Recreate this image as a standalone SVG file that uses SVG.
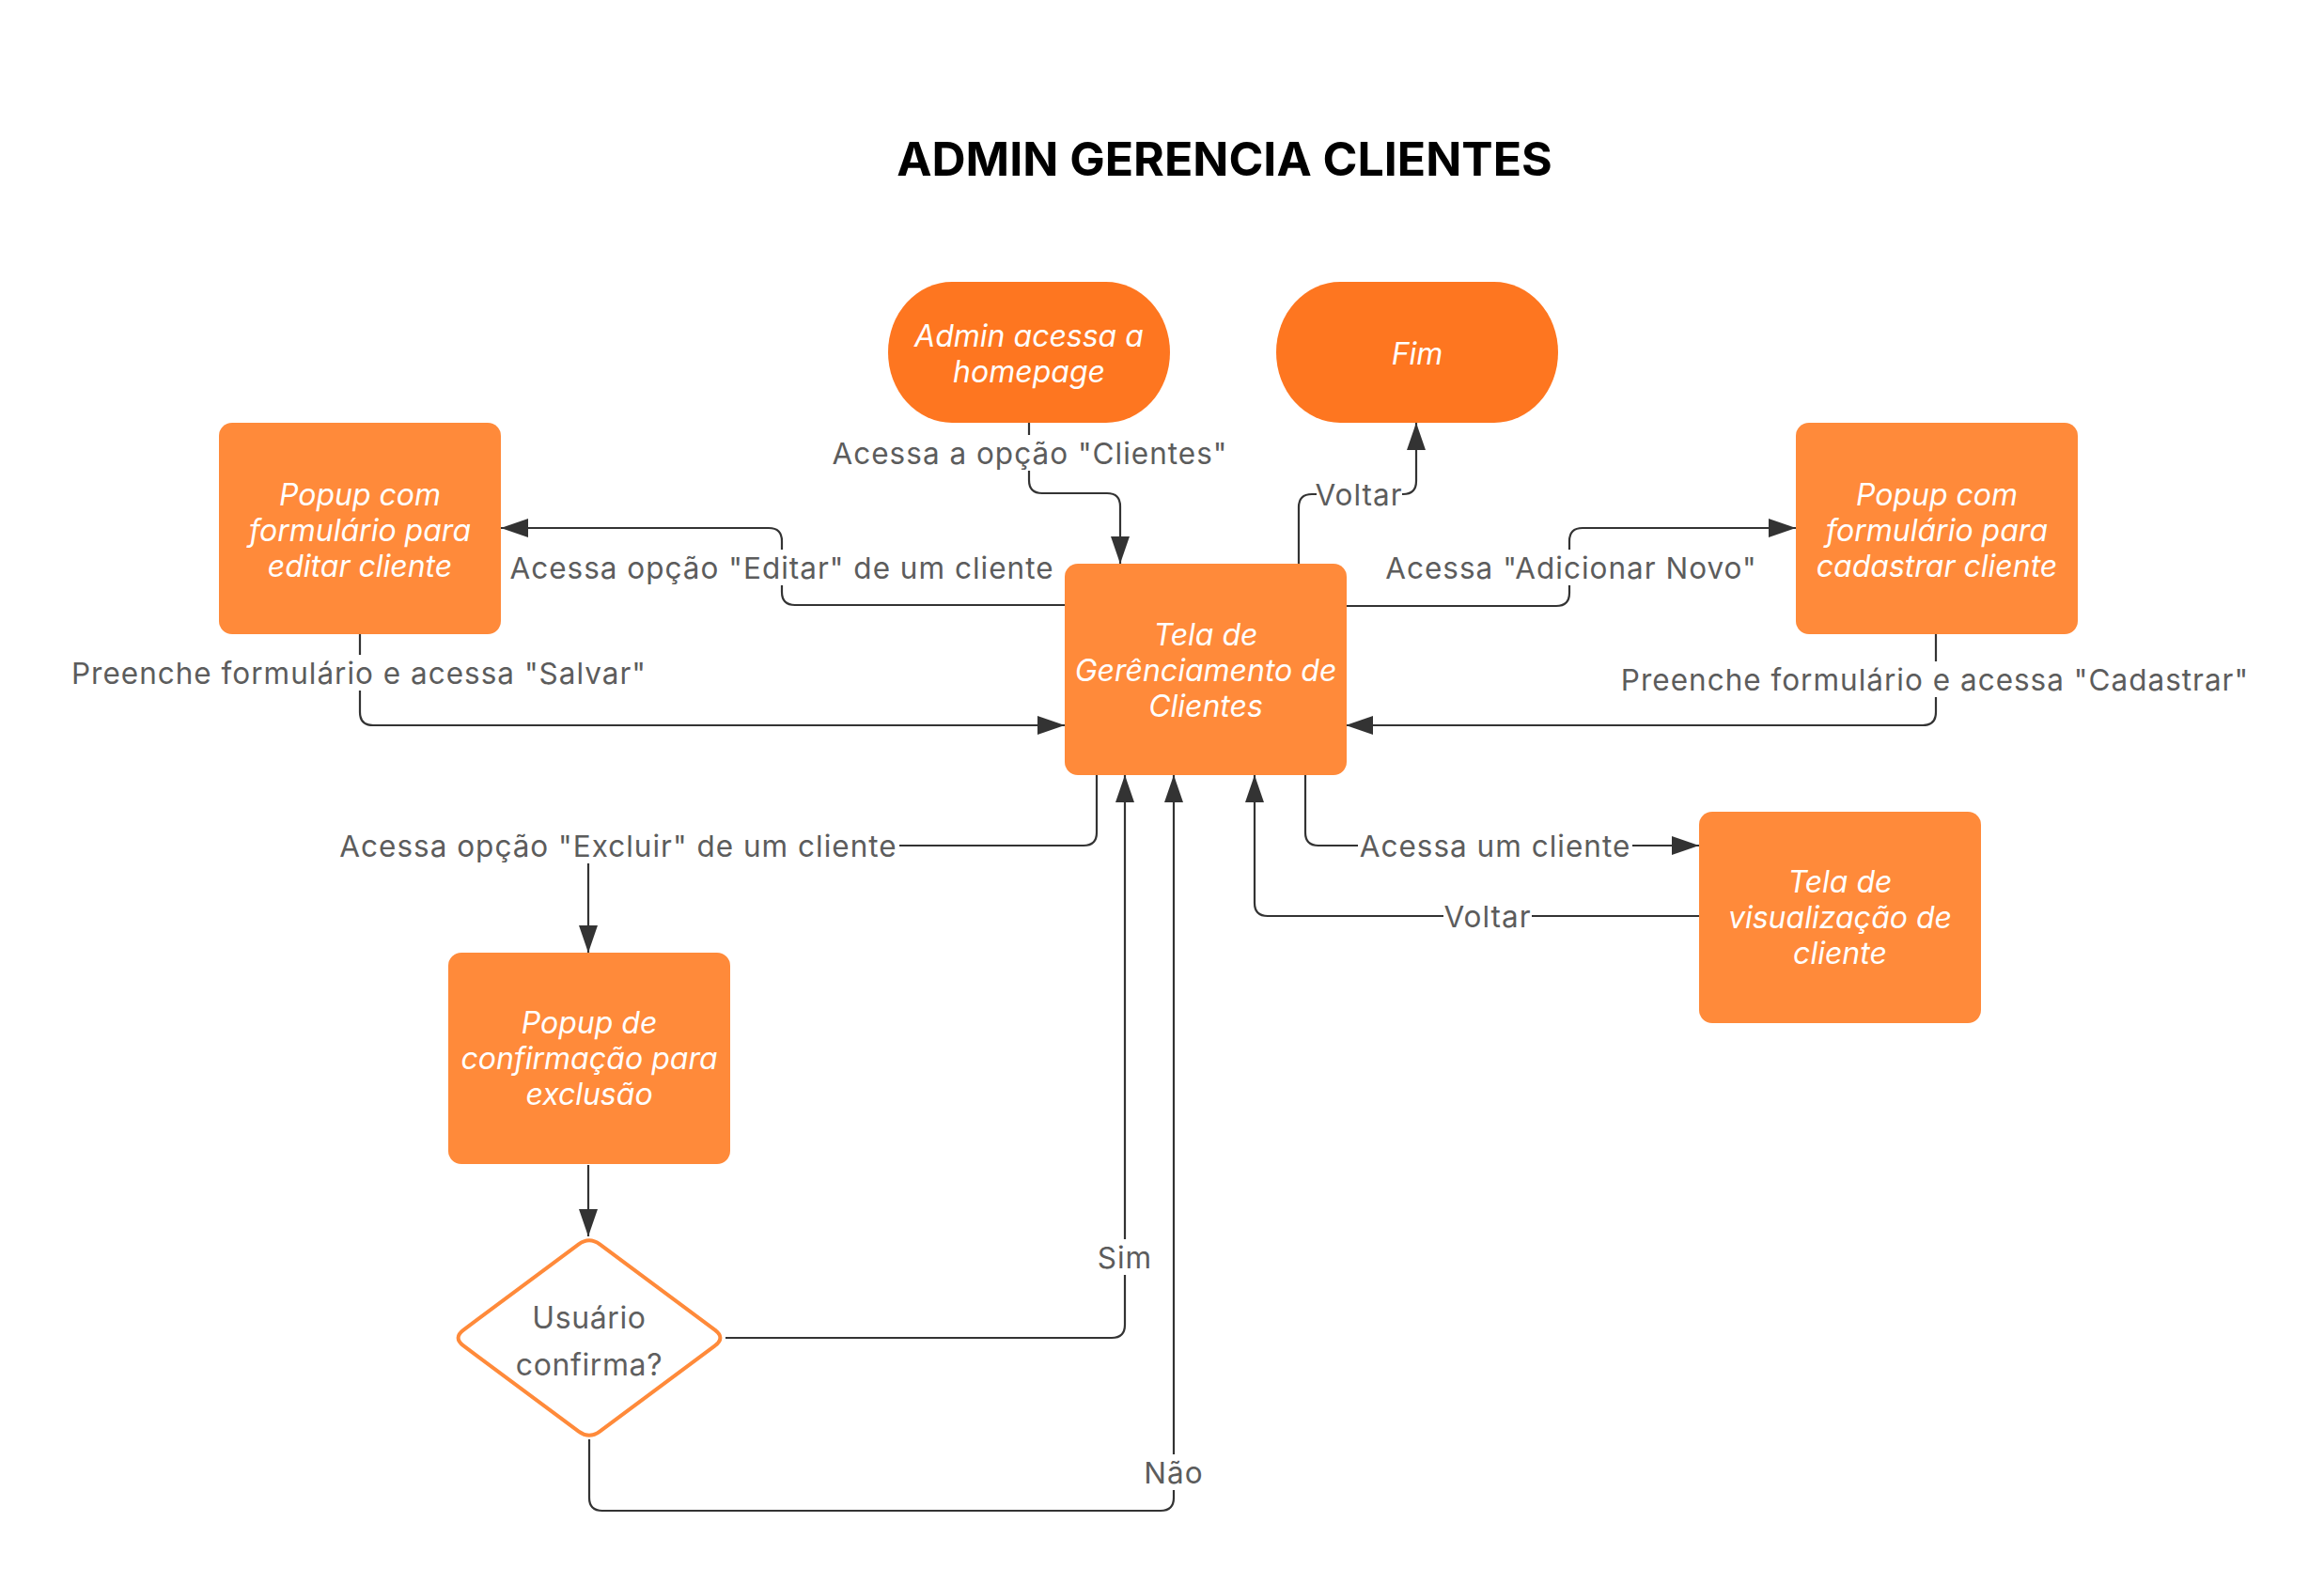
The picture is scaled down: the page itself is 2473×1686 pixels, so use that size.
<svg xmlns="http://www.w3.org/2000/svg" width="2473" height="1686" viewBox="0 0 2473 1686">
<style>
.bg{fill:#ffffff}
.title{font-family:Inter,"Liberation Sans",sans-serif;font-weight:700;font-size:50px;fill:#000}
.term{fill:#FE7620}
.proc{fill:#FF8A3A}
.nt{font-family:Inter,"Liberation Sans",sans-serif;font-style:italic;font-size:32px;fill:#ffffff;text-anchor:middle;dominant-baseline:central}
.dt{font-family:Inter,"Liberation Sans",sans-serif;font-size:32px;letter-spacing:0.6px;fill:#5f5f5f;text-anchor:middle;dominant-baseline:central}
.edge{fill:none;stroke:#333333;stroke-width:2.2}
.lb{fill:#ffffff}
.lt{font-family:Inter,"Liberation Sans",sans-serif;font-size:31.5px;letter-spacing:1px;fill:#5c5c5c;text-anchor:middle;dominant-baseline:central}
</style>
<defs>
<marker id="arr" viewBox="0 0 29 20" refX="29" refY="10" markerWidth="29" markerHeight="20" markerUnits="userSpaceOnUse" orient="auto">
<path d="M0 0 L29 10 L0 20 Z" fill="#333333"/>
</marker>
</defs>
<rect class="bg" x="0" y="0" width="2473" height="1686"/>
<text class="title" x="1303" y="187" text-anchor="middle">ADMIN GERENCIA CLIENTES</text>

<g id="connectors">
<path class="edge" d="M1095 450 V511 Q1095 525 1109 525 H1178 Q1192 525 1192 539 V600" marker-end="url(#arr)"/>
<path class="edge" d="M1133 644 H846 Q832 644 832 630 V576 Q832 562 818 562 H533" marker-end="url(#arr)"/>
<path class="edge" d="M383 675 V758 Q383 772 397 772 H1133" marker-end="url(#arr)"/>
<path class="edge" d="M1382 600 V540 Q1382 526 1396 526 H1493 Q1507 526 1507 512 V450" marker-end="url(#arr)"/>
<path class="edge" d="M1432 645 H1656 Q1670 645 1670 631 V576 Q1670 562 1684 562 H1911" marker-end="url(#arr)"/>
<path class="edge" d="M2060 675 V758 Q2060 772 2046 772 H1432" marker-end="url(#arr)"/>
<path class="edge" d="M1167 825 V886 Q1167 900 1153 900 H640 Q626 900 626 914 V1014" marker-end="url(#arr)"/>
<path class="edge" d="M1389 825 V886 Q1389 900 1403 900 H1808" marker-end="url(#arr)"/>
<path class="edge" d="M1808 975 H1349 Q1335 975 1335 961 V825" marker-end="url(#arr)"/>
<path class="edge" d="M626 1240 V1316" marker-end="url(#arr)"/>
<path class="edge" d="M772 1424 H1183 Q1197 1424 1197 1410 V825" marker-end="url(#arr)"/>
<path class="edge" d="M627 1532 V1594 Q627 1608 641 1608 H1235 Q1249 1608 1249 1594 V825" marker-end="url(#arr)"/>

<rect class="lb" x="886" y="463" width="420" height="38"/>
<text class="lt" x="1096" y="482">Acessa a opção "Clientes"</text>
<rect class="lb" x="539" y="585" width="585" height="38"/>
<text class="lt" x="832" y="604">Acessa opção "Editar" de um cliente</text>
<rect class="lb" x="73" y="697" width="617" height="38"/>
<text class="lt" x="382" y="716">Preenche formulário e acessa "Salvar"</text>
<rect class="lb" x="1401" y="507" width="91" height="38"/>
<text class="lt" x="1446" y="526">Voltar</text>
<rect class="lb" x="1472" y="585" width="399" height="38"/>
<text class="lt" x="1672" y="604">Acessa "Adicionar Novo"</text>
<rect class="lb" x="1722" y="704" width="674" height="38"/>
<text class="lt" x="2059" y="723">Preenche formulário e acessa "Cadastrar"</text>
<rect class="lb" x="360" y="881" width="597" height="38"/>
<text class="lt" x="658" y="900">Acessa opção "Excluir" de um cliente</text>
<rect class="lb" x="1445" y="881" width="292" height="38"/>
<text class="lt" x="1591" y="900">Acessa um cliente</text>
<rect class="lb" x="1536" y="956" width="94" height="38"/>
<text class="lt" x="1583" y="975">Voltar</text>
<rect class="lb" x="1170" y="1319" width="54" height="38"/>
<text class="lt" x="1197" y="1338">Sim</text>
<rect class="lb" x="1219" y="1548" width="60" height="38"/>
<text class="lt" x="1249" y="1567">Não</text>
</g>

<g id="n_start">
<rect class="term" x="945" y="300" width="300" height="150" rx="68" ry="75"/>
<text class="nt" x="1095" y="357">Admin acessa a</text>
<text class="nt" x="1095" y="395">homepage</text>
</g>
<g id="n_fim">
<rect class="term" x="1358" y="300" width="300" height="150" rx="68" ry="75"/>
<text class="nt" x="1508" y="376">Fim</text>
</g>
<g id="n_editar">
<rect class="proc" x="233" y="450" width="300" height="225" rx="14"/>
<text class="nt" x="383" y="526">Popup com</text>
<text class="nt" x="383" y="564">formulário para</text>
<text class="nt" x="383" y="602">editar cliente</text>
</g>
<g id="n_cadastrar">
<rect class="proc" x="1911" y="450" width="300" height="225" rx="14"/>
<text class="nt" x="2061" y="526">Popup com</text>
<text class="nt" x="2061" y="564">formulário para</text>
<text class="nt" x="2061" y="602">cadastrar cliente</text>
</g>
<g id="n_tela">
<rect class="proc" x="1133" y="600" width="300" height="225" rx="14"/>
<text class="nt" x="1283" y="675">Tela de</text>
<text class="nt" x="1283" y="713">Gerênciamento de</text>
<text class="nt" x="1283" y="751">Clientes</text>
</g>
<g id="n_visualizacao">
<rect class="proc" x="1808" y="864" width="300" height="225" rx="14"/>
<text class="nt" x="1958" y="938">Tela de</text>
<text class="nt" x="1958" y="976">visualização de</text>
<text class="nt" x="1958" y="1014">cliente</text>
</g>
<g id="n_exclusao">
<rect class="proc" x="477" y="1014" width="300" height="225" rx="14"/>
<text class="nt" x="627" y="1088">Popup de</text>
<text class="nt" x="627" y="1126">confirmação para</text>
<text class="nt" x="627" y="1164">exclusão</text>
</g>
<g id="n_decisao">
<path d="M638.2 1324.4 L760.8 1415.6 Q772 1424 760.8 1432.4 L638.2 1523.6 Q627 1532 615.8 1523.6 L493.2 1432.4 Q482 1424 493.2 1415.6 L615.8 1324.4 Q627 1316 638.2 1324.4 Z" fill="#ffffff" stroke="#FF8A3A" stroke-width="4"/>
<text class="dt" x="627" y="1402">Usuário</text>
<text class="dt" x="627" y="1452">confirma?</text>
</g>
</svg>
